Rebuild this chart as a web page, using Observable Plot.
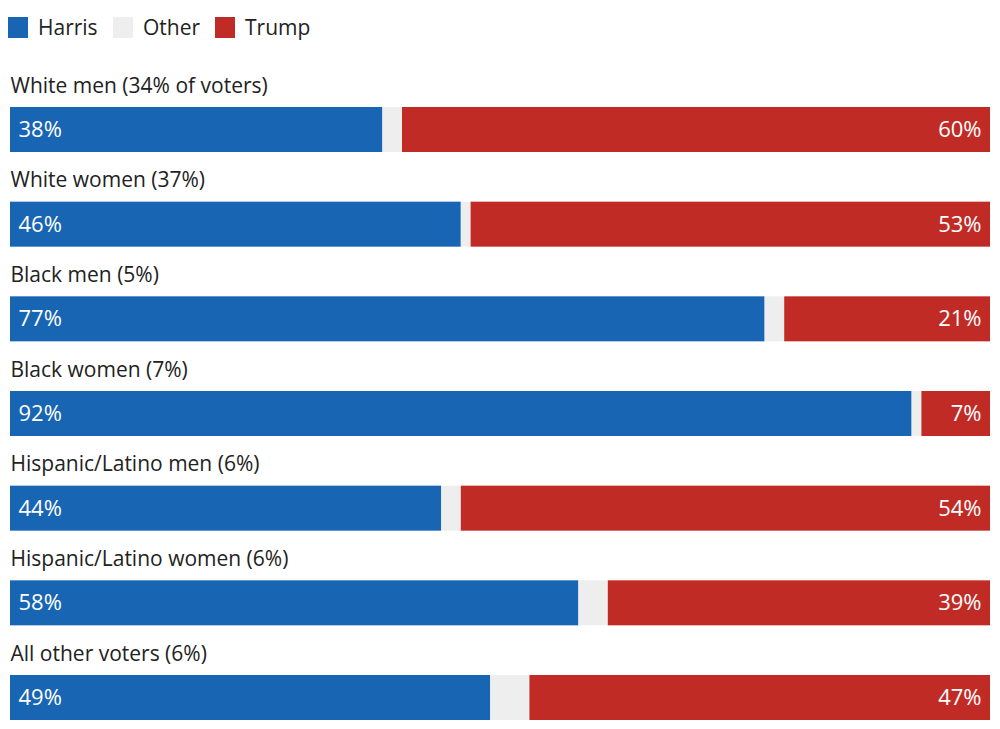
<!DOCTYPE html>
<html>
<head>
<meta charset="utf-8">
<script src="https://cdn.jsdelivr.net/npm/d3@7"></script>
<script src="https://cdn.jsdelivr.net/npm/@observablehq/plot@0.6"></script>
<style>
  html, body { margin: 0; padding: 0; background: #fff; }
  body { width: 1000px; font-family: "Open Sans", "Liberation Sans", sans-serif; color: #222; }
  #legend { height: 60px; position: relative; }
  .item { position: absolute; top: 13px; display: flex; align-items: center; font-size: 21px; }
  .sw { width: 20px; height: 21px; margin-right: 10px; }
  svg { display: block; }
</style>
</head>
<body>
<div id="legend"></div>
<div id="chart"></div>
<script>
const categories = [
  "White men (34% of voters)",
  "White women (37%)",
  "Black men (5%)",
  "Black women (7%)",
  "Hispanic/Latino men (6%)",
  "Hispanic/Latino women (6%)",
  "All other voters (6%)"
];
const harris = [38, 46, 77, 92, 44, 58, 49];
const trump = [60, 53, 21, 7, 54, 39, 47];
const parties = ["Harris", "Other", "Trump"];
const colors = ["#1865b4", "#eeeeee", "#c12b26"];

const other = categories.map((c, i) => 100 - harris[i] - trump[i]);
const rows = [];
categories.forEach((c, i) => {
  rows.push({cat: c, party: "Harris", value: harris[i]});
  rows.push({cat: c, party: "Other", value: other[i]});
  rows.push({cat: c, party: "Trump", value: trump[i]});
});
const labels = categories.map((c, i) => ({cat: c, h: harris[i], t: trump[i]}));

// legend
const legend = document.getElementById("legend");
const lx = [8, 113, 215];
parties.forEach((p, i) => {
  const d = document.createElement("div");
  d.className = "item";
  d.style.left = lx[i] + "px";
  d.innerHTML = `<span class="sw" style="background:${colors[i]}"></span><span>${p}</span>`;
  legend.appendChild(d);
});

const chart = Plot.plot({
  width: 1000,
  height: 669,
  margin: 0,
  x: {domain: [0, 100], range: [10, 990], axis: null},
  y: {domain: categories, range: [47, 660], padding: 0.5246, paddingOuter: 0, align: 0, round: false, axis: null},
  color: {domain: parties, range: colors},
  style: {fontFamily: "'Open Sans', 'Liberation Sans', sans-serif", fontSize: "21px"},
  marks: [
    Plot.barX(rows, Plot.stackX({x: "value", y: "cat", fill: "party", order: parties, insetTop: 0, insetBottom: 0})),
    Plot.text(labels, {x: () => 0, y: "cat", text: d => d.cat, textAnchor: "start", dx: 0, dy: -44, fill: "#222", fontSize: 21}),
    Plot.text(labels, {x: () => 0, y: "cat", text: d => d.h + "%", textAnchor: "start", dx: 8, fill: "white", fontSize: 22}),
    Plot.text(labels, {x: () => 100, y: "cat", text: d => d.t + "%", textAnchor: "end", dx: -9, fill: "white", fontSize: 22})
  ]
});
document.getElementById("chart").appendChild(chart);
</script>
</body>
</html>
